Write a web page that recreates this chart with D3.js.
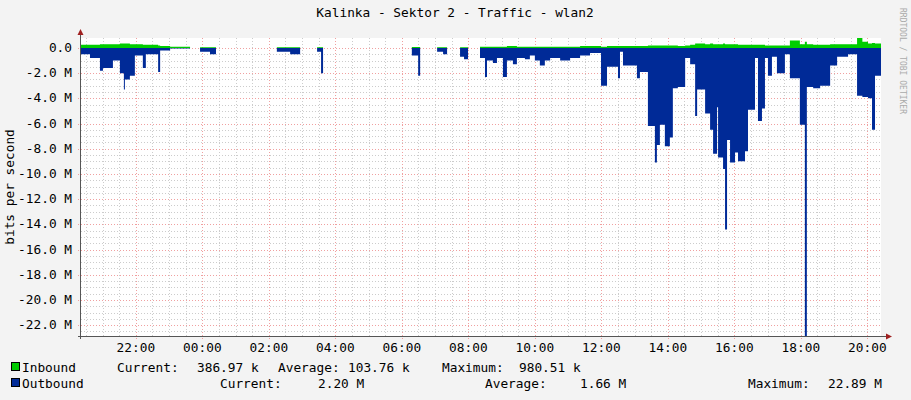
<!DOCTYPE html>
<html><head><meta charset="utf-8">
<script src="https://cdn.jsdelivr.net/npm/d3@7"></script>
<style>body{margin:0;background:#f3f3f3}text{font-family:"DejaVu Sans Mono",monospace;}</style>
</head><body><div id="chart"></div>
<script>
// hours since 20:21 (start of the graph)
var hours = [0,0.27,0.57,0.66,0.96,1.17,1.29,1.32,1.47,1.62,1.86,1.95,2.32,2.38,2.68,3.28,3.46,3.58,3.88,4.06,4.24,4.87,4.99,5.29,5.38,5.89,6.29,6.59,6.68,6.89,6.98,7.10,7.22,7.28,7.43,7.70,7.88,8.30,8.39,9.53,9.83,9.95,10.14,10.20,10.29,10.50,10.59,10.71,10.89,11.01,11.10,11.40,11.52,11.64,11.76,12.00,12.15,12.21,12.39,12.51,12.69,12.81,12.99,13.11,13.35,13.50,13.65,13.80,13.95,14.11,14.41,14.71,15.01,15.31,15.64,15.82,16.15,16.21,16.30,16.72,16.81,17.05,17.26,17.32,17.41,17.56,17.71,17.80,17.95,18.17,18.32,18.47,18.53,18.77,18.92,19.01,19.13,19.16,19.31,19.37,19.43,19.52,19.67,19.76,19.97,20.06,20.27,20.36,20.48,20.57,20.66,20.78,20.93,21.17,21.32,21.62,21.77,21.83,22.02,22.23,22.53,22.74,23.07,23.34,23.50,23.67,23.79,23.88,24.06];
// outbound, Mbit/s (drawn below zero)
var outbound = [0.5,0.8,1.8,1.6,1.0,2.0,3.3,2.5,2.2,0.6,1.6,0.5,1.9,0.2,0.05,0.05,null,0.3,0.5,0.3,null,0.8,null,1.3,null,0.3,0.5,0.3,null,0.2,null,0.3,2.0,0.3,null,0.2,null,0.1,null,0.1,null,0.6,2.2,1.0,null,0.5,null,0.3,0.5,0.3,null,0.7,0.9,0.1,null,0.8,2.3,1.0,1.2,0.8,2.3,1.0,1.3,0.8,0.9,0.6,1.0,1.4,1.0,0.8,1.0,0.8,0.6,0.4,3.0,1.5,2.4,0.3,1.4,2.4,1.9,6.2,9.1,7.7,6.1,7.8,7.1,3.2,3.1,0.8,1.3,5.4,3.3,5.2,6.5,8.4,4.7,8.7,9.6,14.4,7.3,9.1,8.3,9.0,8.2,4.9,0.8,5.8,4.8,0.8,2.2,0.7,2.0,0.5,2.4,6.1,22.89,3.1,3.2,3.0,1.4,0.7,0.5,3.8,3.9,4.0,6.5,2.2,2.2];
// inbound, Mbit/s
var inbound = [0.25,0.25,0.3,0.3,0.3,0.35,0.35,0.35,0.3,0.3,0.25,0.25,0.2,0.15,0.1,0.15,null,0.05,0.05,0.05,null,0.05,null,0.05,null,0.05,0.05,0.05,null,0.05,null,0.05,0.05,0.05,null,0.05,null,0.05,null,0.05,null,0.08,0.08,0.08,null,0.05,null,0.05,0.05,0.05,null,0.05,0.05,0.05,null,0.1,0.1,0.1,0.1,0.1,0.1,0.15,0.15,0.1,0.1,0.1,0.1,0.1,0.1,0.1,0.1,0.1,0.15,0.15,0.1,0.15,0.15,0.15,0.15,0.15,0.15,0.2,0.2,0.2,0.2,0.2,0.2,0.2,0.15,0.2,0.25,0.35,0.35,0.3,0.35,0.3,0.3,0.3,0.35,0.3,0.3,0.3,0.3,0.25,0.25,0.25,0.25,0.25,0.25,0.2,0.2,0.2,0.2,0.2,0.6,0.3,0.5,0.3,0.25,0.25,0.3,0.3,0.3,0.9,0.5,0.35,0.4,0.35,0.35];
var yTicks = [0,-2,-4,-6,-8,-10,-12,-14,-16,-18,-20,-22];
var legendRows = [
  ["Inbound", "#00cc00", [["Current:",117],["386.97 k",197],["Average:",278],["103.76 k",348],["Maximum:",442],["980.51 k",519]]],
  ["Outbound", "#002a97", [["Current:",220],["2.20 M",318],["Average:",485],["1.66 M",580],["Maximum:",748],["22.89 M",828]]]
];

var width = 911, height = 400;
var pL = 81, pR = 881, pT = 38, pB = 336;
var fs = 12.8;
var start = new Date(2020, 0, 1, 20, 21);
var toDate = function(h) { return new Date(+start + h * 3600e3); };

var svg = d3.select("#chart").append("svg").attr("width", width).attr("height", height);
svg.append("rect").attr("width", width).attr("height", height).attr("fill", "#f3f3f3");
svg.append("rect").attr("x", pL).attr("y", pT).attr("width", pR - pL).attr("height", pB - pT).attr("fill", "#fff");

var x = d3.scaleTime().domain([start, toDate(24.06)]).range([pL, pR]);
var y = d3.scaleLinear().domain([-22.86, 0.79]).range([pB, pT]);

var g = svg.append("g");
// minor grid
x.ticks(d3.timeMinute.every(30)).forEach(function(t) {
  g.append("line").attr("x1", Math.round(x(t)) + 0.5).attr("x2", Math.round(x(t)) + 0.5).attr("y1", pT).attr("y2", pB)
    .attr("stroke", "#ccc").attr("stroke-dasharray", "1,2");
});
d3.range(0, -23, -0.5).forEach(function(v) {
  g.append("line").attr("x1", pL).attr("x2", pR).attr("y1", Math.round(y(v)) + 0.5).attr("y2", Math.round(y(v)) + 0.5)
    .attr("stroke", "#ccc").attr("stroke-dasharray", "1,2");
});
// major grid
x.ticks(d3.timeHour.every(2)).forEach(function(t) {
  g.append("line").attr("x1", Math.round(x(t)) + 0.5).attr("x2", Math.round(x(t)) + 0.5).attr("y1", pT).attr("y2", pB + 3)
    .attr("stroke", "#f0a0a0").attr("stroke-dasharray", "1,2");
});
yTicks.forEach(function(v) {
  g.append("line").attr("x1", pL - 3).attr("x2", pR).attr("y1", Math.round(y(v)) + 0.5).attr("y2", Math.round(y(v)) + 0.5)
    .attr("stroke", "#f0a0a0").attr("stroke-dasharray", "1,2");
});

svg.append("clipPath").attr("id", "clip").append("rect")
  .attr("x", pL).attr("y", pT).attr("width", pR - pL).attr("height", pB - pT);

var data = hours.map(function(h, i) { return {t: toDate(h), o: outbound[i], n: inbound[i]}; });
var outArea = d3.area().curve(d3.curveStepAfter)
  .defined(function(d) { return d.o != null; })
  .x(function(d) { return x(d.t); }).y0(y(0)).y1(function(d) { return y(-d.o); });
var inArea = d3.area().curve(d3.curveStepAfter)
  .defined(function(d) { return d.n != null; })
  .x(function(d) { return x(d.t); }).y0(y(0)).y1(function(d) { return y(d.n); });
svg.append("path").datum(data).attr("d", outArea).attr("fill", "#002a97").attr("clip-path", "url(#clip)");
svg.append("path").datum(data).attr("d", inArea).attr("fill", "#00cc00").attr("clip-path", "url(#clip)");

// axes
svg.append("line").attr("x1", pL - 0.5).attr("x2", pL - 0.5).attr("y1", 30).attr("y2", pB + 3).attr("stroke", "#555");
svg.append("line").attr("x1", pL - 3).attr("x2", 887).attr("y1", pB + 0.5).attr("y2", pB + 0.5).attr("stroke", "#555");
svg.append("path").attr("d", "M" + (pL - 3.5) + ",35L" + (pL + 2.5) + ",35L" + (pL - 0.5) + ",29Z").attr("fill", "#a02020");
svg.append("path").attr("d", "M886," + (pB - 2.5) + "L886," + (pB + 3.5) + "L892," + (pB + 0.5) + "Z").attr("fill", "#a02020");

yTicks.forEach(function(v) {
  svg.append("text").attr("x", 72).attr("y", y(v) + 4).attr("text-anchor", "end")
    .attr("font-size", fs).attr("fill", "#000").text(v === 0 ? "0.0" : v.toFixed(1) + " M");
});
x.ticks(d3.timeHour.every(2)).forEach(function(t) {
  svg.append("text").attr("x", x(t)).attr("y", 352).attr("text-anchor", "middle")
    .attr("font-size", fs).text(d3.timeFormat("%H:%M")(t));
});

svg.append("text").attr("x", 455).attr("y", 17).attr("text-anchor", "middle").attr("font-size", fs).text("Kalinka - Sektor 2 - Traffic - wlan2");
svg.append("text").attr("transform", "translate(14,187) rotate(-90)").attr("text-anchor", "middle").attr("font-size", fs).text("bits per second");
svg.append("text").attr("transform", "translate(900,8) rotate(90)").attr("font-size", 8).attr("fill", "#aaa").text("RRDTOOL / TOBI OETIKER");

legendRows.forEach(function(r, i) {
  var yy = 372 + i * 16;
  svg.append("rect").attr("x", 11.5).attr("y", yy - 9.5).attr("width", 8).attr("height", 8).attr("fill", r[1]).attr("stroke", "#000");
  svg.append("text").attr("x", 22).attr("y", yy).attr("font-size", fs).text(r[0]);
  r[2].forEach(function(p) {
    svg.append("text").attr("x", p[1]).attr("y", yy).attr("font-size", fs).text(p[0]);
  });
});
</script></body></html>
